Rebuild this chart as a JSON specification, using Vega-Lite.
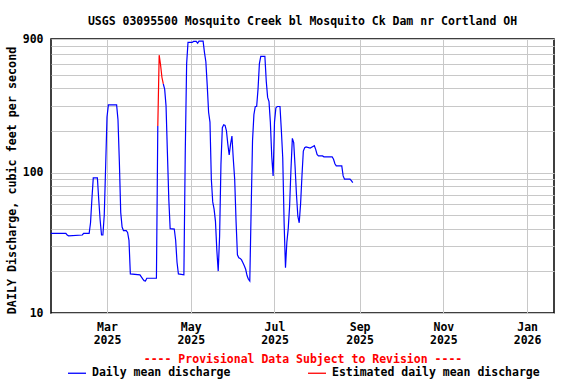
{
  "$schema": "https://vega.github.io/schema/vega-lite/v6.json",
  "width": 503,
  "height": 274,
  "autosize": {"type": "none"},
  "padding": {"left": 51, "top": 39, "right": 22, "bottom": 71},
  "background": "white",
  "title": {
    "text": "USGS 03095500 Mosquito Creek bl Mosquito Ck Dam nr Cortland OH",
    "font": "DejaVu Sans Mono", "fontSize": 11.5, "fontWeight": "bold", "color": "black",
    "anchor": "middle", "offset": 6
  },
  "config": {
    "view": {"stroke": "black", "strokeWidth": 1.5},
    "font": "DejaVu Sans Mono"
  },
  "datasets": {
    "flow": [
      {"date": "2025-01-19", "cfs": 37, "series": "Daily mean discharge", "seg": "a"},
      {"date": "2025-01-30", "cfs": 37, "series": "Daily mean discharge", "seg": "a"},
      {"date": "2025-01-31", "cfs": 36, "series": "Daily mean discharge", "seg": "a"},
      {"date": "2025-02-01", "cfs": 35.5, "series": "Daily mean discharge", "seg": "a"},
      {"date": "2025-02-11", "cfs": 36, "series": "Daily mean discharge", "seg": "a"},
      {"date": "2025-02-12", "cfs": 37, "series": "Daily mean discharge", "seg": "a"},
      {"date": "2025-02-16", "cfs": 37, "series": "Daily mean discharge", "seg": "a"},
      {"date": "2025-02-17", "cfs": 44, "series": "Daily mean discharge", "seg": "a"},
      {"date": "2025-02-18", "cfs": 65, "series": "Daily mean discharge", "seg": "a"},
      {"date": "2025-02-19", "cfs": 92, "series": "Daily mean discharge", "seg": "a"},
      {"date": "2025-02-22", "cfs": 92, "series": "Daily mean discharge", "seg": "a"},
      {"date": "2025-02-23", "cfs": 64, "series": "Daily mean discharge", "seg": "a"},
      {"date": "2025-02-24", "cfs": 46, "series": "Daily mean discharge", "seg": "a"},
      {"date": "2025-02-25", "cfs": 36, "series": "Daily mean discharge", "seg": "a"},
      {"date": "2025-02-26", "cfs": 36, "series": "Daily mean discharge", "seg": "a"},
      {"date": "2025-02-27", "cfs": 50, "series": "Daily mean discharge", "seg": "a"},
      {"date": "2025-02-28", "cfs": 110, "series": "Daily mean discharge", "seg": "a"},
      {"date": "2025-03-01", "cfs": 250, "series": "Daily mean discharge", "seg": "a"},
      {"date": "2025-03-02", "cfs": 305, "series": "Daily mean discharge", "seg": "a"},
      {"date": "2025-03-08", "cfs": 305, "series": "Daily mean discharge", "seg": "a"},
      {"date": "2025-03-09", "cfs": 239, "series": "Daily mean discharge", "seg": "a"},
      {"date": "2025-03-10", "cfs": 120, "series": "Daily mean discharge", "seg": "a"},
      {"date": "2025-03-11", "cfs": 52, "series": "Daily mean discharge", "seg": "a"},
      {"date": "2025-03-12", "cfs": 41, "series": "Daily mean discharge", "seg": "a"},
      {"date": "2025-03-13", "cfs": 38.7, "series": "Daily mean discharge", "seg": "a"},
      {"date": "2025-03-15", "cfs": 38.7, "series": "Daily mean discharge", "seg": "a"},
      {"date": "2025-03-16", "cfs": 37.5, "series": "Daily mean discharge", "seg": "a"},
      {"date": "2025-03-17", "cfs": 33, "series": "Daily mean discharge", "seg": "a"},
      {"date": "2025-03-18", "cfs": 19, "series": "Daily mean discharge", "seg": "a"},
      {"date": "2025-03-25", "cfs": 18.7, "series": "Daily mean discharge", "seg": "a"},
      {"date": "2025-03-26", "cfs": 18.1, "series": "Daily mean discharge", "seg": "a"},
      {"date": "2025-03-27", "cfs": 17.5, "series": "Daily mean discharge", "seg": "a"},
      {"date": "2025-03-28", "cfs": 17, "series": "Daily mean discharge", "seg": "a"},
      {"date": "2025-03-29", "cfs": 16.9, "series": "Daily mean discharge", "seg": "a"},
      {"date": "2025-03-30", "cfs": 17.7, "series": "Daily mean discharge", "seg": "a"},
      {"date": "2025-04-06", "cfs": 17.7, "series": "Daily mean discharge", "seg": "a"},
      {"date": "2025-04-07", "cfs": 216, "series": "Daily mean discharge", "seg": "a"},
      {"date": "2025-04-07", "cfs": 216, "series": "Estimated daily mean discharge", "seg": "b"},
      {"date": "2025-04-08", "cfs": 690, "series": "Estimated daily mean discharge", "seg": "b"},
      {"date": "2025-04-09", "cfs": 590, "series": "Estimated daily mean discharge", "seg": "b"},
      {"date": "2025-04-10", "cfs": 480, "series": "Estimated daily mean discharge", "seg": "b"},
      {"date": "2025-04-11", "cfs": 430, "series": "Estimated daily mean discharge", "seg": "b"},
      {"date": "2025-04-11", "cfs": 430, "series": "Daily mean discharge", "seg": "c"},
      {"date": "2025-04-12", "cfs": 395, "series": "Daily mean discharge", "seg": "c"},
      {"date": "2025-04-13", "cfs": 300, "series": "Daily mean discharge", "seg": "c"},
      {"date": "2025-04-14", "cfs": 139, "series": "Daily mean discharge", "seg": "c"},
      {"date": "2025-04-15", "cfs": 65, "series": "Daily mean discharge", "seg": "c"},
      {"date": "2025-04-16", "cfs": 40, "series": "Daily mean discharge", "seg": "c"},
      {"date": "2025-04-19", "cfs": 39.7, "series": "Daily mean discharge", "seg": "c"},
      {"date": "2025-04-20", "cfs": 33, "series": "Daily mean discharge", "seg": "c"},
      {"date": "2025-04-21", "cfs": 23, "series": "Daily mean discharge", "seg": "c"},
      {"date": "2025-04-22", "cfs": 19, "series": "Daily mean discharge", "seg": "c"},
      {"date": "2025-04-26", "cfs": 18.7, "series": "Daily mean discharge", "seg": "c"},
      {"date": "2025-04-27", "cfs": 140, "series": "Daily mean discharge", "seg": "c"},
      {"date": "2025-04-28", "cfs": 600, "series": "Daily mean discharge", "seg": "c"},
      {"date": "2025-04-29", "cfs": 851, "series": "Daily mean discharge", "seg": "c"},
      {"date": "2025-05-02", "cfs": 851, "series": "Daily mean discharge", "seg": "c"},
      {"date": "2025-05-03", "cfs": 865, "series": "Daily mean discharge", "seg": "c"},
      {"date": "2025-05-05", "cfs": 865, "series": "Daily mean discharge", "seg": "c"},
      {"date": "2025-05-06", "cfs": 840, "series": "Daily mean discharge", "seg": "c"},
      {"date": "2025-05-07", "cfs": 870, "series": "Daily mean discharge", "seg": "c"},
      {"date": "2025-05-10", "cfs": 870, "series": "Daily mean discharge", "seg": "c"},
      {"date": "2025-05-11", "cfs": 720, "series": "Daily mean discharge", "seg": "c"},
      {"date": "2025-05-12", "cfs": 620, "series": "Daily mean discharge", "seg": "c"},
      {"date": "2025-05-13", "cfs": 420, "series": "Daily mean discharge", "seg": "c"},
      {"date": "2025-05-14", "cfs": 270, "series": "Daily mean discharge", "seg": "c"},
      {"date": "2025-05-15", "cfs": 230, "series": "Daily mean discharge", "seg": "c"},
      {"date": "2025-05-16", "cfs": 90, "series": "Daily mean discharge", "seg": "c"},
      {"date": "2025-05-17", "cfs": 62, "series": "Daily mean discharge", "seg": "c"},
      {"date": "2025-05-18", "cfs": 55, "series": "Daily mean discharge", "seg": "c"},
      {"date": "2025-05-19", "cfs": 45, "series": "Daily mean discharge", "seg": "c"},
      {"date": "2025-05-20", "cfs": 28, "series": "Daily mean discharge", "seg": "c"},
      {"date": "2025-05-21", "cfs": 19.9, "series": "Daily mean discharge", "seg": "c"},
      {"date": "2025-05-22", "cfs": 35, "series": "Daily mean discharge", "seg": "c"},
      {"date": "2025-05-23", "cfs": 115, "series": "Daily mean discharge", "seg": "c"},
      {"date": "2025-05-24", "cfs": 210, "series": "Daily mean discharge", "seg": "c"},
      {"date": "2025-05-25", "cfs": 220, "series": "Daily mean discharge", "seg": "c"},
      {"date": "2025-05-26", "cfs": 218, "series": "Daily mean discharge", "seg": "c"},
      {"date": "2025-05-27", "cfs": 199, "series": "Daily mean discharge", "seg": "c"},
      {"date": "2025-05-28", "cfs": 160, "series": "Daily mean discharge", "seg": "c"},
      {"date": "2025-05-29", "cfs": 134, "series": "Daily mean discharge", "seg": "c"},
      {"date": "2025-05-30", "cfs": 160, "series": "Daily mean discharge", "seg": "c"},
      {"date": "2025-05-31", "cfs": 183, "series": "Daily mean discharge", "seg": "c"},
      {"date": "2025-06-01", "cfs": 125, "series": "Daily mean discharge", "seg": "c"},
      {"date": "2025-06-02", "cfs": 90, "series": "Daily mean discharge", "seg": "c"},
      {"date": "2025-06-03", "cfs": 45, "series": "Daily mean discharge", "seg": "c"},
      {"date": "2025-06-04", "cfs": 26, "series": "Daily mean discharge", "seg": "c"},
      {"date": "2025-06-05", "cfs": 24.8, "series": "Daily mean discharge", "seg": "c"},
      {"date": "2025-06-06", "cfs": 24.5, "series": "Daily mean discharge", "seg": "c"},
      {"date": "2025-06-07", "cfs": 23.9, "series": "Daily mean discharge", "seg": "c"},
      {"date": "2025-06-08", "cfs": 22.8, "series": "Daily mean discharge", "seg": "c"},
      {"date": "2025-06-09", "cfs": 21.7, "series": "Daily mean discharge", "seg": "c"},
      {"date": "2025-06-10", "cfs": 20.5, "series": "Daily mean discharge", "seg": "c"},
      {"date": "2025-06-11", "cfs": 18.5, "series": "Daily mean discharge", "seg": "c"},
      {"date": "2025-06-12", "cfs": 17.4, "series": "Daily mean discharge", "seg": "c"},
      {"date": "2025-06-13", "cfs": 16.9, "series": "Daily mean discharge", "seg": "c"},
      {"date": "2025-06-14", "cfs": 55, "series": "Daily mean discharge", "seg": "c"},
      {"date": "2025-06-15", "cfs": 170, "series": "Daily mean discharge", "seg": "c"},
      {"date": "2025-06-16", "cfs": 260, "series": "Daily mean discharge", "seg": "c"},
      {"date": "2025-06-17", "cfs": 297, "series": "Daily mean discharge", "seg": "c"},
      {"date": "2025-06-18", "cfs": 297, "series": "Daily mean discharge", "seg": "c"},
      {"date": "2025-06-19", "cfs": 395, "series": "Daily mean discharge", "seg": "c"},
      {"date": "2025-06-20", "cfs": 600, "series": "Daily mean discharge", "seg": "c"},
      {"date": "2025-06-21", "cfs": 676, "series": "Daily mean discharge", "seg": "c"},
      {"date": "2025-06-24", "cfs": 676, "series": "Daily mean discharge", "seg": "c"},
      {"date": "2025-06-25", "cfs": 450, "series": "Daily mean discharge", "seg": "c"},
      {"date": "2025-06-26", "cfs": 345, "series": "Daily mean discharge", "seg": "c"},
      {"date": "2025-06-27", "cfs": 322, "series": "Daily mean discharge", "seg": "c"},
      {"date": "2025-06-28", "cfs": 228, "series": "Daily mean discharge", "seg": "c"},
      {"date": "2025-06-29", "cfs": 130, "series": "Daily mean discharge", "seg": "c"},
      {"date": "2025-06-30", "cfs": 95, "series": "Daily mean discharge", "seg": "c"},
      {"date": "2025-07-01", "cfs": 230, "series": "Daily mean discharge", "seg": "c"},
      {"date": "2025-07-02", "cfs": 290, "series": "Daily mean discharge", "seg": "c"},
      {"date": "2025-07-03", "cfs": 297, "series": "Daily mean discharge", "seg": "c"},
      {"date": "2025-07-05", "cfs": 297, "series": "Daily mean discharge", "seg": "c"},
      {"date": "2025-07-06", "cfs": 200, "series": "Daily mean discharge", "seg": "c"},
      {"date": "2025-07-07", "cfs": 128, "series": "Daily mean discharge", "seg": "c"},
      {"date": "2025-07-08", "cfs": 44, "series": "Daily mean discharge", "seg": "c"},
      {"date": "2025-07-09", "cfs": 21, "series": "Daily mean discharge", "seg": "c"},
      {"date": "2025-07-10", "cfs": 32, "series": "Daily mean discharge", "seg": "c"},
      {"date": "2025-07-11", "cfs": 40, "series": "Daily mean discharge", "seg": "c"},
      {"date": "2025-07-12", "cfs": 58, "series": "Daily mean discharge", "seg": "c"},
      {"date": "2025-07-13", "cfs": 106, "series": "Daily mean discharge", "seg": "c"},
      {"date": "2025-07-14", "cfs": 176, "series": "Daily mean discharge", "seg": "c"},
      {"date": "2025-07-15", "cfs": 164, "series": "Daily mean discharge", "seg": "c"},
      {"date": "2025-07-16", "cfs": 110, "series": "Daily mean discharge", "seg": "c"},
      {"date": "2025-07-17", "cfs": 70, "series": "Daily mean discharge", "seg": "c"},
      {"date": "2025-07-18", "cfs": 49, "series": "Daily mean discharge", "seg": "c"},
      {"date": "2025-07-19", "cfs": 44, "series": "Daily mean discharge", "seg": "c"},
      {"date": "2025-07-20", "cfs": 60, "series": "Daily mean discharge", "seg": "c"},
      {"date": "2025-07-21", "cfs": 95, "series": "Daily mean discharge", "seg": "c"},
      {"date": "2025-07-22", "cfs": 143, "series": "Daily mean discharge", "seg": "c"},
      {"date": "2025-07-23", "cfs": 151, "series": "Daily mean discharge", "seg": "c"},
      {"date": "2025-07-24", "cfs": 153, "series": "Daily mean discharge", "seg": "c"},
      {"date": "2025-07-27", "cfs": 150, "series": "Daily mean discharge", "seg": "c"},
      {"date": "2025-07-29", "cfs": 154, "series": "Daily mean discharge", "seg": "c"},
      {"date": "2025-07-30", "cfs": 156, "series": "Daily mean discharge", "seg": "c"},
      {"date": "2025-07-31", "cfs": 147, "series": "Daily mean discharge", "seg": "c"},
      {"date": "2025-08-01", "cfs": 135, "series": "Daily mean discharge", "seg": "c"},
      {"date": "2025-08-02", "cfs": 132, "series": "Daily mean discharge", "seg": "c"},
      {"date": "2025-08-05", "cfs": 132, "series": "Daily mean discharge", "seg": "c"},
      {"date": "2025-08-06", "cfs": 130, "series": "Daily mean discharge", "seg": "c"},
      {"date": "2025-08-12", "cfs": 130, "series": "Daily mean discharge", "seg": "c"},
      {"date": "2025-08-13", "cfs": 125, "series": "Daily mean discharge", "seg": "c"},
      {"date": "2025-08-14", "cfs": 116, "series": "Daily mean discharge", "seg": "c"},
      {"date": "2025-08-15", "cfs": 112, "series": "Daily mean discharge", "seg": "c"},
      {"date": "2025-08-19", "cfs": 112, "series": "Daily mean discharge", "seg": "c"},
      {"date": "2025-08-20", "cfs": 95, "series": "Daily mean discharge", "seg": "c"},
      {"date": "2025-08-21", "cfs": 90, "series": "Daily mean discharge", "seg": "c"},
      {"date": "2025-08-25", "cfs": 90, "series": "Daily mean discharge", "seg": "c"},
      {"date": "2025-08-26", "cfs": 88, "series": "Daily mean discharge", "seg": "c"},
      {"date": "2025-08-27", "cfs": 85, "series": "Daily mean discharge", "seg": "c"}
    ]
  },
  "data": {"name": "flow"},
  "mark": {"type": "line", "strokeWidth": 1.2, "interpolate": "linear"},
  "encoding": {
    "x": {
      "field": "date", "type": "temporal",
      "scale": {"type": "utc", "domain": [
        {"year": 2025, "month": 1, "date": 19, "hours": 5, "utc": true},
        {"year": 2026, "month": 1, "date": 20, "hours": 14, "utc": true}
      ]},
      "axis": {
        "values": [
          {"year": 2025, "month": 3, "date": 1, "utc": true},
          {"year": 2025, "month": 5, "date": 1, "utc": true},
          {"year": 2025, "month": 7, "date": 1, "utc": true},
          {"year": 2025, "month": 9, "date": 1, "utc": true},
          {"year": 2025, "month": 11, "date": 1, "utc": true},
          {"year": 2026, "month": 1, "date": 1, "utc": true}
        ],
        "labelExpr": "[utcFormat(datum.value, '%b'), utcFormat(datum.value, '%Y')]",
        "labelFont": "DejaVu Sans Mono", "labelFontSize": 11.5, "labelFontWeight": "bold",
        "labelColor": "black", "labelLineHeight": 13, "labelPadding": 8, "labelFlush": false,
        "labelOverlap": false,
        "ticks": false, "domain": false, "grid": true, "gridColor": "#c8c8c8", "gridWidth": 1,
        "title": "---- Provisional Data Subject to Revision ----",
        "titleColor": "#ff0000", "titleFont": "DejaVu Sans Mono", "titleFontSize": 11.5,
        "titleFontWeight": "bold", "titlePadding": 8
      }
    },
    "y": {
      "field": "cfs", "type": "quantitative",
      "scale": {"type": "log", "domain": [10, 900], "nice": false},
      "axis": {
        "values": [10, 20, 30, 40, 50, 60, 70, 80, 90, 100, 200, 300, 400, 500, 600, 700, 800, 900],
        "labelExpr": "(datum.value == 10 || datum.value == 100 || datum.value == 900) ? format(datum.value, 'd') : ''",
        "labelFont": "DejaVu Sans Mono", "labelFontSize": 11.5, "labelFontWeight": "bold",
        "labelColor": "black", "labelPadding": 8, "labelOverlap": false, "labelBound": false,
        "ticks": false, "domain": false, "grid": true, "gridColor": "#c8c8c8", "gridWidth": 1,
        "title": "DAILY Discharge, cubic feet per second",
        "titleColor": "black", "titleFont": "DejaVu Sans Mono", "titleFontSize": 11.7,
        "titleFontWeight": "bold", "titlePadding": 5, "titleY": 141
      }
    },
    "color": {
      "field": "series", "type": "nominal",
      "scale": {"domain": ["Daily mean discharge", "Estimated daily mean discharge"], "range": ["#0000ff", "#ff0000"]},
      "legend": {
        "orient": "none", "legendX": 16, "legendY": 324, "direction": "horizontal",
        "title": null, "symbolType": "stroke", "symbolSize": 324, "symbolStrokeWidth": 1.3,
        "labelFont": "DejaVu Sans Mono", "labelFontSize": 11.5, "labelFontWeight": "bold",
        "labelColor": "black", "labelLimit": 300, "labelOffset": 5, "columnPadding": 74, "padding": 0
      }
    },
    "detail": {"field": "seg", "type": "nominal"}
  }
}
